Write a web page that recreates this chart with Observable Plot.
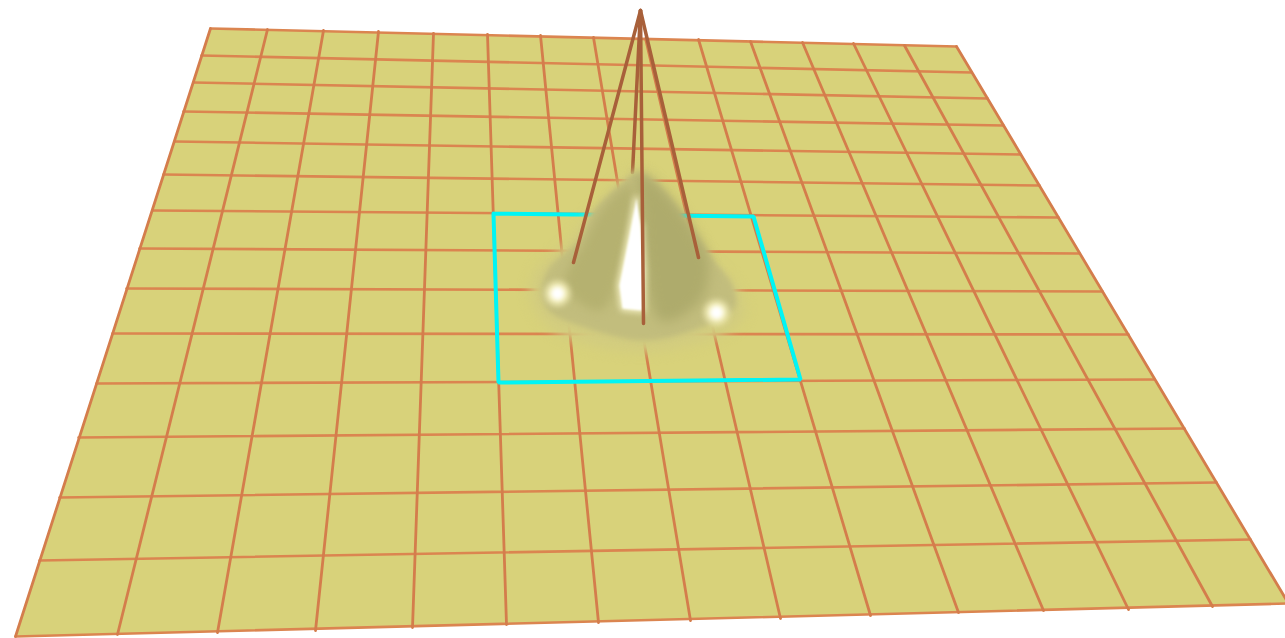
<!DOCTYPE html>
<html><head><meta charset="utf-8">
<script src="https://cdn.jsdelivr.net/npm/d3@7"></script>
<script src="https://cdn.jsdelivr.net/npm/@observablehq/plot@0.6"></script>
<style>html,body{margin:0;padding:0;background:#fff}svg{display:block}</style>
</head><body><div id="chart"></div>
<script>
const colTopX=[210,267,323,378,433,487,540,593,645,698,750,802,853,904,956];
const colTopY=[28,29,30,31,33,34,35,37,38,39,41,42,43,45,46];
const colBottomX=[15,117,217,315,412,506,598,690,780,870,958,1043,1128,1212,1288];
const colBottomY=[636,634,632,630,627,624,622,620,618,615,612,610,609,606,603];
const rowLeftX=[210,201,193,183,174,163,152,139,126,112,96,78,59,39,15];
const rowLeftY=[28,55,82,111,141,174,210,248,288,333,383,437,497,560,636];
const rowRightX=[956,971,987,1003,1020,1039,1058,1079,1102,1128,1154,1184,1216,1250,1288];
const rowRightY=[46,72,98,125,154,185,217,253,291,334,379,428,482,539,603];
const floorX=[210,956,1288,15];
const floorY=[28,46,603,636];
const squareX=[493,753,800,498,493];
const squareY=[213,216,379,382,213];
const apexX=640, apexY=10;
const legEndX=[632,573,698,643];
const legEndY=[172,262,257,323];
const skirtX=[637,655,680,705,735,745,730,690,643,590,550,530,535,560,590,615];
const skirtY=[170,182,222,252,285,312,330,345,352,345,328,300,270,248,212,185];
const bodyX=[637,652,670,692,712,732,734,695,643,585,548,541,549,578,592,618];
const bodyY=[172,180,198,228,258,285,307,329,340,327,310,290,267,240,212,186];
const coneX=[638,652,670,692,708,700,660,640];
const coneY=[172,180,198,228,262,300,320,200];
const lightX=[630,605,585,565,600,625];
const lightY=[185,205,240,285,310,250];
const ridgeX=[636,629,619,622,642,643,640];
const ridgeY=[198,235,285,308,310,270,225];
const glowX=[557,716];
const glowY=[293,312];

const rows=rowLeftX.flatMap((x,i)=>[{i:"r"+i,x,y:rowLeftY[i],w:1.9+i*0.09},{i:"r"+i,x:rowRightX[i],y:rowRightY[i],w:1.9+i*0.09}]);
const cols=colTopX.flatMap((x,i)=>[{i:"c"+i,x,y:colTopY[i]},{i:"c"+i,x:colBottomX[i],y:colBottomY[i]}]);
const poly=(xs,ys)=>xs.map((x,k)=>({x,y:ys[k]}));
const legs=legEndX.flatMap((x,i)=>[{i,x:apexX,y:apexY},{i,x,y:legEndY[i]}]);

const soft=b=>`blur(${b}px)`;
document.getElementById("chart").append(Plot.plot({
  width:1285,height:638,margin:0,
  x:{domain:[0,1285],range:[0,1285],axis:null},
  y:{domain:[0,638],range:[0,638],axis:null},
  marks:[
    Plot.line(poly(floorX,floorY),{x:"x",y:"y",fill:"#d8d27a",stroke:"none",imageFilter:soft(0.5)}),
    Plot.line(rows,{x:"x",y:"y",z:"i",stroke:"#db8550",strokeWidth:2.6,imageFilter:soft(0.5)}),
    Plot.line(cols,{x:"x",y:"y",z:"i",stroke:"#d47d4c",strokeWidth:2.8,imageFilter:soft(0.5)}),
    Plot.line(poly(squareX,squareY),{x:"x",y:"y",stroke:"#00f5f5",strokeWidth:4,strokeLinejoin:"miter",imageFilter:soft(0.3)}),
    Plot.line(legs.filter(d=>d.i==0),{x:"x",y:"y",stroke:"#a8603a",strokeWidth:3.5,imageFilter:soft(0.5)}),
    Plot.line(poly(skirtX,skirtY),{x:"x",y:"y",curve:"catmull-rom-closed",fill:"#d2cc7f",stroke:"none",imageFilter:soft(6)}),
    Plot.line(poly(bodyX,bodyY),{x:"x",y:"y",curve:"catmull-rom-closed",fill:"#c2bd7d",stroke:"none",imageFilter:soft(2.5)}),
    Plot.line(poly(coneX,coneY),{x:"x",y:"y",curve:"catmull-rom-closed",fill:"#aeab6c",stroke:"none",imageFilter:soft(6)}),
    Plot.line(poly(lightX,lightY),{x:"x",y:"y",curve:"catmull-rom-closed",fill:"#b5b170",stroke:"none",imageFilter:soft(5)}),
    Plot.line(poly(ridgeX,ridgeY),{x:"x",y:"y",fill:"#f2eec0",stroke:"#f2eec0",strokeWidth:5,imageFilter:soft(3)}),
    Plot.line(poly(ridgeX,ridgeY),{x:"x",y:"y",fill:"#ffffff",stroke:"none",imageFilter:soft(1.2)}),
    Plot.dot(poly(glowX,glowY),{x:"x",y:"y",r:12,fill:"#f5f0bc",imageFilter:soft(3)}),
    Plot.dot(poly(glowX,glowY),{x:"x",y:"y",r:6.5,fill:"#ffffff",imageFilter:soft(2)}),
    Plot.line(legs.filter(d=>d.i>0),{x:"x",y:"y",z:"i",stroke:"#a8603a",strokeWidth:3.5,imageFilter:soft(0.5)})
  ]
}));
</script></body></html>
